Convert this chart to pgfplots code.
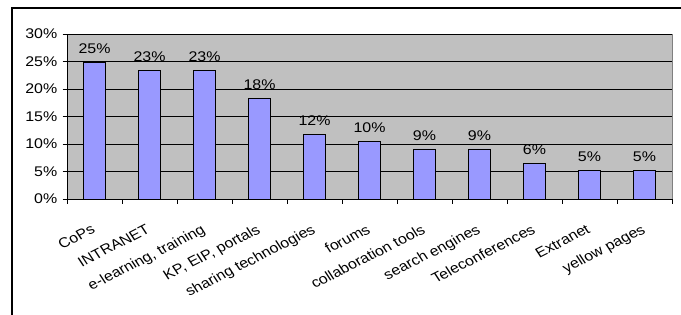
\documentclass[border=0pt]{standalone}
\usepackage{fontspec}
\setmainfont{Liberation Sans}
\usepackage{pgfplots}
\pgfplotsset{compat=1.18}
\definecolor{barfill}{HTML}{9999FF}
\definecolor{plotbg}{HTML}{C0C0C0}
\definecolor{frame}{HTML}{808080}
\begin{document}
\begin{tikzpicture}[x=1bp,y=1bp]
\useasboundingbox (0,0) rectangle (681,314);
\draw[black, line width=1.1bp] (12,-5) -- (12,306) -- (690,306);
\begin{axis}[
  at={(67bp,115bp)}, anchor=south west,
  scale only axis, width=605bp, height=165bp,
  /pgf/number format/assume math mode=true,
  font=\fontsize{14bp}{16bp}\selectfont,
  ybar, bar width=22bp,
  xmin=-0.5, xmax=10.5, ymin=0, ymax=30,
  axis background/.style={fill=plotbg, draw=frame, line width=0.8bp},
  axis lines*=left,
  axis line style={black, line width=0.8bp, -},
  ytick={0,5,...,30},
  yticklabels={0\%,5\%,10\%,15\%,20\%,25\%,30\%},
  ymajorgrids, grid style={black, line width=0.6bp},
  tick align=outside,
  major tick length=4.5bp,
  xtick={0,...,10},
  xticklabels={CoPs,INTRANET,{e-learning, training},{KP, EIP, portals},sharing technologies,forums,collaboration tools,search engines,Teleconferences,Extranet,yellow pages},
  minor xtick={-0.5,0.5,...,10.5},
  minor tick length=4.5bp,
  major x tick style={draw=none},
  minor x tick style={black, line width=0.8bp},
  y tick style={black, line width=0.8bp},
  xticklabel style={yshift=-20bp, xshift=-4bp, xscale=1.14, rotate=30, anchor=north east, inner sep=0pt},
  yticklabel style={inner sep=0pt, xshift=-5bp, xscale=1.14},
  nodes near coords={\pgfmathprintnumber[fixed,precision=0]{\pgfplotspointmeta}\%},
  nodes near coords style={font=\fontsize{14bp}{16bp}\selectfont, yshift=5bp, xscale=1.14},
]
\addplot[fill=barfill, draw=black, line width=0.8bp] coordinates {
(0,24.9) (1,23.4) (2,23.4) (3,18.3) (4,11.8) (5,10.4) (6,9.1) (7,9.1) (8,6.4) (9,5.2) (10,5.2)};
\end{axis}
\end{tikzpicture}
\end{document}
